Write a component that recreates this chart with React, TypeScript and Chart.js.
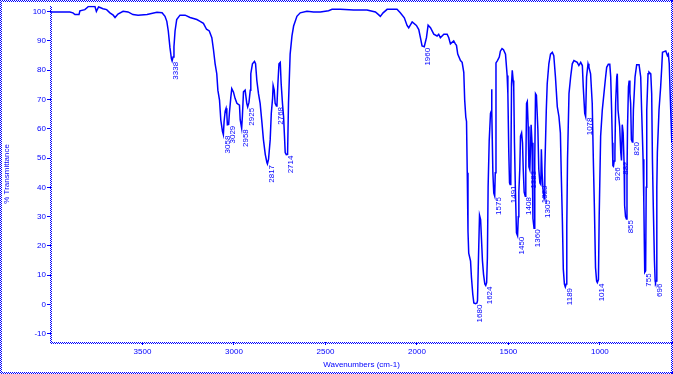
import { useEffect, useRef } from "react";
import { Chart, registerables } from "chart.js";

Chart.register(...registerables);

const wavenumbers = [
  4000, 3897, 3880, 3869, 3847, 3842, 3815, 3800, 3796, 3760, 3752, 3740, 3732, 3716, 3696, 3678, 3660, 3650, 3634, 3606,
  3579, 3552, 3524, 3475, 3421, 3393, 3377, 3367, 3359, 3350, 3342, 3338, 3333, 3328, 3322, 3313, 3295, 3267, 3240, 3203,
  3185, 3167, 3150, 3135, 3121, 3112, 3103, 3094, 3088, 3079, 3072, 3063, 3058, 3054, 3048, 3043, 3039, 3036, 3029, 3025,
  3017, 3012, 3003, 2994, 2984, 2970, 2966, 2958, 2954, 2948, 2939, 2930, 2925, 2918, 2911, 2908, 2899, 2888, 2882, 2875,
  2866, 2857, 2847, 2839, 2829, 2820, 2817, 2811, 2802, 2796, 2789, 2786, 2780, 2775, 2768, 2765, 2760, 2754, 2747, 2742,
  2735, 2729, 2724, 2720, 2714, 2707, 2702, 2693, 2683, 2674, 2656, 2638, 2601, 2565, 2528, 2483, 2464, 2419, 2346, 2273,
  2227, 2210, 2200, 2185, 2163, 2109, 2091, 2069, 2054, 2045, 2026, 2003, 1990, 1981, 1972, 1960, 1948, 1939, 1926, 1908,
  1890, 1881, 1872, 1853, 1835, 1826, 1817, 1808, 1799, 1790, 1784, 1777, 1762, 1753, 1744, 1739, 1733, 1729, 1725, 1721,
  1717, 1707, 1702, 1695, 1689, 1680, 1672, 1669, 1664, 1658, 1652, 1647, 1642, 1636, 1629, 1624, 1619, 1615, 1611, 1605,
  1598, 1594, 1592, 1590, 1585, 1580, 1575, 1572, 1568, 1560, 1550, 1544, 1535, 1527, 1516, 1507, 1503, 1498, 1494, 1491,
  1487, 1483, 1479, 1474, 1471, 1467, 1462, 1456, 1450, 1446, 1443, 1438, 1434, 1428, 1423, 1419, 1414, 1408, 1405, 1401,
  1397, 1392, 1388, 1383, 1380, 1376, 1371, 1366, 1360, 1356, 1352, 1347, 1339, 1334, 1328, 1323, 1320, 1316, 1311, 1305,
  1301, 1293, 1288, 1279, 1270, 1260, 1252, 1243, 1233, 1224, 1216, 1211, 1205, 1200, 1194, 1189, 1184, 1181, 1177, 1169,
  1160, 1151, 1142, 1124, 1115, 1105, 1096, 1091, 1083, 1078, 1073, 1065, 1060, 1051, 1042, 1036, 1030, 1024, 1018, 1014,
  1008, 1004, 996, 987, 978, 970, 963, 954, 946, 941, 936, 932, 929, 926, 922, 918, 914, 908, 905, 901,
  892, 886, 882, 878, 873, 868, 865, 860, 855, 852, 849, 844, 840, 836, 832, 828, 823, 820, 817, 808,
  799, 786, 777, 772, 764, 760, 757, 755, 750, 747, 744, 737, 732, 722, 717, 713, 708, 702, 698, 696,
  693, 689, 686, 677, 668, 662, 658, 640, 631, 626, 621, 616, 607,
];

const transmittance = [
  99.9, 99.9, 99.6, 99.0, 99.0, 100.3, 100.7, 101.5, 101.8, 101.8, 100.1, 101.6, 101.4, 101.0, 100.7, 99.6, 98.8, 98.0, 99.2, 100.1,
  99.9, 99.0, 98.8, 99.0, 99.8, 99.6, 98.4, 96.7, 93.4, 87.8, 84.0, 83.2, 84.5, 88.0, 93.4, 97.3, 98.8, 98.8, 98.0, 97.3,
  96.7, 96.0, 94.0, 93.4, 91.1, 87.0, 82.2, 78.8, 73.2, 69.8, 63.0, 59.1, 58.0, 62.5, 66.0, 67.0, 65.0, 61.4, 61.5, 65.3,
  70.9, 73.7, 72.6, 70.4, 68.7, 68.1, 63.1, 60.2, 64.3, 72.6, 73.2, 68.7, 67.5, 69.0, 73.2, 78.8, 82.2, 83.0, 82.2, 76.5,
  72.0, 68.7, 62.0, 56.3, 51.3, 48.5, 48.0, 49.6, 56.3, 65.3, 70.4, 74.8, 73.2, 68.7, 67.8, 68.1, 75.4, 82.2, 82.7, 75.4,
  68.7, 64.3, 57.6, 51.9, 51.2, 51.3, 68.7, 85.5, 91.7, 95.1, 98.4, 99.6, 100.1, 99.9, 99.9, 100.3, 100.8, 100.8, 100.6, 100.6,
  99.9, 99.0, 98.4, 99.6, 100.8, 100.8, 99.6, 97.9, 95.3, 94.5, 96.5, 95.3, 93.9, 91.1, 88.3, 88.0, 91.1, 95.4, 94.5, 92.3,
  91.7, 92.3, 91.1, 92.3, 92.3, 91.1, 89.0, 89.5, 90.0, 89.0, 88.5, 85.5, 83.3, 82.7, 79.3, 69.8, 64.0, 62.5, 45.0, 25.0,
  17.5, 14.8, 9.2, 3.6, 0.5, 0.3, 0.5, 1.3, 15.0, 30.5, 29.0, 22.0, 15.0, 10.3, 7.0, 6.5, 7.5, 16.0, 40.0, 56.0,
  65.3, 66.0, 73.5, 66.0, 45.0, 38.0, 37.0, 45.0, 82.5, 83.3, 84.5, 86.5, 87.4, 87.0, 85.5, 78.2, 72.0, 52.0, 41.5, 41.0,
  43.0, 75.4, 80.0, 76.5, 74.3, 55.2, 39.5, 24.5, 23.5, 30.0, 38.4, 46.2, 57.5, 58.6, 55.2, 46.2, 38.4, 37.0, 46.2, 68.7,
  69.3, 60.8, 47.0, 46.0, 52.0, 61.4, 55.2, 29.4, 26.0, 49.6, 72.0, 71.5, 59.7, 46.2, 41.5, 41.0, 53.0, 45.1, 39.5, 36.0,
  46.2, 66.4, 75.4, 82.2, 85.5, 86.1, 85.0, 77.7, 67.6, 64.2, 58.6, 44.0, 28.3, 12.0, 7.0, 6.0, 7.0, 27.0, 49.6, 72.0,
  77.7, 82.2, 83.3, 82.7, 81.6, 82.7, 81.6, 74.3, 65.3, 64.2, 77.7, 82.2, 81.0, 78.8, 68.7, 49.6, 32.8, 12.6, 8.0, 7.5,
  8.5, 30.0, 57.5, 66.4, 72.0, 77.0, 81.0, 82.0, 82.0, 77.7, 66.4, 55.2, 47.4, 47.2, 49.0, 51.9, 68.7, 77.7, 78.8, 66.4,
  60.8, 51.9, 49.2, 61.4, 58.6, 48.5, 33.9, 30.0, 29.2, 44.0, 60.8, 74.3, 76.5, 72.0, 68.7, 56.3, 55.5, 55.8, 66.4, 77.7,
  81.9, 81.9, 77.7, 66.4, 49.6, 35.0, 20.0, 11.0, 11.5, 40.0, 66.4, 78.8, 79.4, 78.8, 72.0, 49.6, 32.8, 15.0, 8.0, 7.5,
  8.0, 40.0, 51.9, 66.4, 74.3, 81.0, 86.1, 86.6, 85.0, 85.5, 82.2, 72.0, 55.2,
];

const peakWavenumbers = [
  3338, 3058, 3029, 2958, 2925, 2817, 2768, 2714, 1960, 1680, 1624, 1575, 1491, 1450, 1408, 1383, 1360, 1323, 1305, 1189,
  1078, 1014, 926, 882, 855, 820, 755, 696,
];
const peakTransmittance = [
  83.2, 58.0, 61.4, 60.2, 67.5, 48.0, 67.8, 51.2, 88.0, 0.3, 6.5, 37.0, 41.0, 23.5, 37.0, 46.0, 26.0, 41.0, 36.0, 6.0,
  64.2, 7.5, 47.2, 49.2, 29.2, 55.8, 11.0, 7.5,
];
const peakLabels = peakWavenumbers.map((w) => String(w));

const xTickValues = [3500, 3000, 2500, 2000, 1500, 1000];
const yTickValues = [-10, 0, 10, 20, 30, 40, 50, 60, 70, 80, 90, 100];

const BLUE = "#0000ff";
const FONT = "'Liberation Sans', Arial, sans-serif";

function checkerH(ctx: CanvasRenderingContext2D, x0: number, x1: number, y: number) {
  for (let x = x0; x <= x1; x++) ctx.fillRect(x, y + (x % 2), 1, 1);
}
function checkerV(ctx: CanvasRenderingContext2D, x: number, y0: number, y1: number) {
  for (let y = y0; y <= y1; y++) ctx.fillRect(x + (y % 2), y, 1, 1);
}

const framePlugin = {
  id: "framePlugin",
  afterDraw(chart: any) {
    const ctx = chart.ctx as CanvasRenderingContext2D;
    const a = chart.chartArea;
    const W = chart.width;
    const H = chart.height;
    ctx.save();
    ctx.fillStyle = BLUE;
    checkerH(ctx, 0, W - 1, 0);
    checkerH(ctx, 0, W - 1, H - 2);
    checkerV(ctx, 0, 0, H - 1);
    checkerV(ctx, W - 2, 0, H - 1);
    checkerV(ctx, Math.round(a.left) - 1, Math.round(a.top), Math.round(a.bottom));
    checkerH(ctx, Math.round(a.left), Math.round(a.right), Math.round(a.bottom));
    ctx.restore();
  },
};

const peakLabelPlugin = {
  id: "peakLabelPlugin",
  afterDatasetsDraw(chart: any) {
    const ctx = chart.ctx as CanvasRenderingContext2D;
    const xs = chart.scales.x;
    const ys = chart.scales.y;
    ctx.save();
    ctx.fillStyle = BLUE;
    ctx.font = `8px ${FONT}`;
    ctx.textAlign = "right";
    ctx.textBaseline = "top";
    peakWavenumbers.forEach((w, i) => {
      const px = xs.getPixelForValue(w);
      const py = ys.getPixelForValue(peakTransmittance[i]) + 1;
      ctx.save();
      ctx.translate(px, py);
      ctx.rotate(-Math.PI / 2);
      ctx.fillText(peakLabels[i], 0, 0);
      ctx.restore();
    });
    ctx.restore();
  },
};

export default function App() {
  const ref = useRef<HTMLCanvasElement | null>(null);

  useEffect(() => {
    if (!ref.current) return;
    const points = wavenumbers.map((w, i) => ({ x: w, y: transmittance[i] }));
    const chart = new Chart(ref.current, {
      type: "line",
      data: {
        datasets: [
          {
            data: points,
            borderColor: BLUE,
            borderWidth: 1.5,
            pointRadius: 0,
            tension: 0,
            fill: false,
          },
        ],
      },
      options: {
        animation: false,
        responsive: false,
        devicePixelRatio: 1,
        layout: { padding: { top: 1, right: 1, left: 0, bottom: 0 } },
        plugins: { legend: { display: false }, tooltip: { enabled: false } },
        scales: {
          x: {
            type: "linear",
            reverse: true,
            min: 606,
            max: 4000,
            afterBuildTicks: (axis: any) => {
              axis.ticks = xTickValues.map((v) => ({ value: v }));
            },
            afterFit: (axis: any) => {
              axis.height = 32;
            },
            grid: { drawOnChartArea: false, drawTicks: true, tickLength: 3, color: BLUE, lineWidth: 1 },
            border: { display: false },
            ticks: {
              color: BLUE,
              font: { family: FONT, size: 8 },
              padding: 2,
              maxRotation: 0,
              autoSkip: false,
              callback: (v: any) => String(v),
            },
            title: {
              display: true,
              text: "Wavenumbers (cm-1)",
              color: BLUE,
              font: { family: FONT, size: 8 },
              padding: { top: 0, bottom: 4 },
            },
          },
          y: {
            type: "linear",
            min: -12.8,
            max: 102,
            afterBuildTicks: (axis: any) => {
              axis.ticks = yTickValues.map((v) => ({ value: v }));
            },
            afterFit: (axis: any) => {
              axis.width = 51;
            },
            grid: { drawOnChartArea: false, drawTicks: true, tickLength: 4, color: BLUE, lineWidth: 1 },
            border: { display: false },
            ticks: {
              color: BLUE,
              font: { family: FONT, size: 8 },
              padding: 1,
              autoSkip: false,
              callback: (v: any) => String(v),
            },
            title: {
              display: true,
              text: "% Transmittance",
              color: BLUE,
              font: { family: FONT, size: 8 },
              padding: { top: 2, bottom: 0 },
            },
          },
        },
      },
      plugins: [peakLabelPlugin, framePlugin],
    });
    return () => chart.destroy();
  }, []);

  return (
    <div style={{ position: "fixed", left: 0, top: 0, width: 673, height: 374, background: "#fff" }}>
      <canvas ref={ref} width={673} height={374} style={{ display: "block" }} />
    </div>
  );
}
